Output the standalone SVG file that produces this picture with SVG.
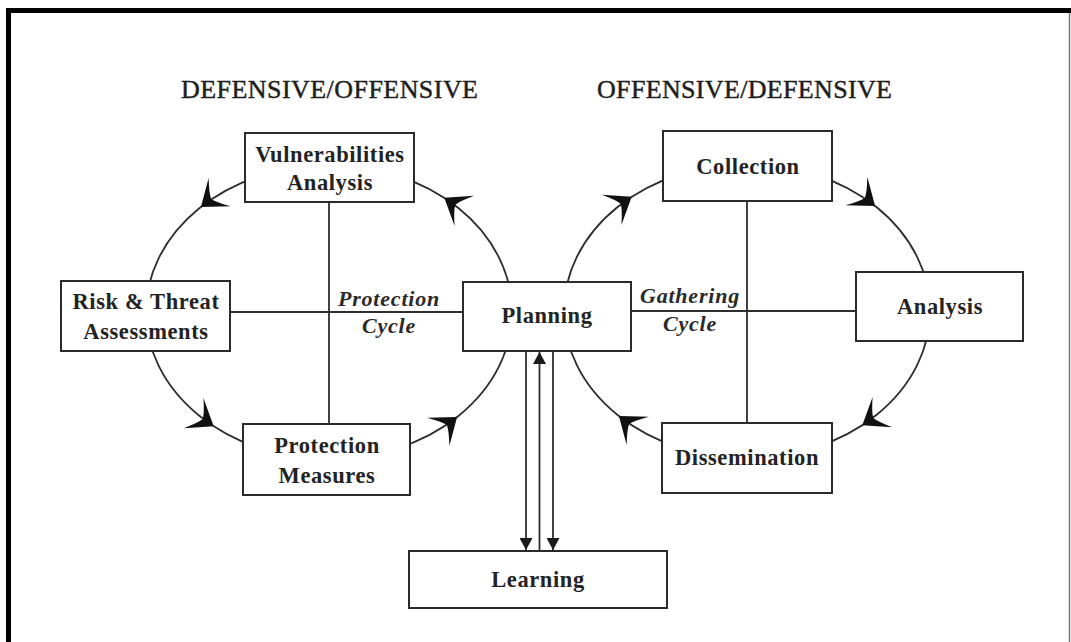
<svg xmlns="http://www.w3.org/2000/svg" xmlns:xlink="http://www.w3.org/1999/xlink" width="1071" height="642" viewBox="0 0 1071 642">
  <style>
    .box { fill: #ffffff; stroke: #2b2b2b; stroke-width: 2; }
    .lbl { font-family: "Liberation Serif", "Times New Roman", serif; font-size: 22.5px; font-weight: bold; fill: #232323; text-anchor: middle; letter-spacing: 0.6px; }
    .cyc { font-family: "Liberation Serif", "Times New Roman", serif; font-size: 22px; font-weight: bold; font-style: italic; fill: #2a2a2a; text-anchor: middle; letter-spacing: 0.8px; }
    .head { font-family: "Liberation Serif", "Times New Roman", serif; font-size: 26px; fill: #1e1e1e; stroke: #1e1e1e; stroke-width: 0.45; text-anchor: middle; }
    .wire { fill: none; stroke: #2e2e2e; stroke-width: 1.8; }
    .barb { fill: #111111; }
  </style>
  <defs>
    <!-- swept-back arrowhead, tip at origin pointing along +x -->
    <path id="barb" class="barb" d="M0,0 L-24,-18 Q-15,-6 -13,0 Q-15,6 -24,18 Z"/>
    <!-- small solid triangle for the Planning/Learning links -->
    <marker id="tri" viewBox="0 0 12 13" refX="12" refY="6.5" markerWidth="12" markerHeight="13" markerUnits="userSpaceOnUse" orient="auto">
      <path d="M0,0 L12,6.5 L0,13 Z" fill="#1a1a1a"/>
    </marker>
  </defs>

  <rect width="1071" height="642" fill="#ffffff"/>

  <!-- page frame -->
  <g id="frame">
    <rect x="6" y="8" width="1065" height="5" fill="#000000"/>
    <rect x="6" y="8" width="5" height="634" fill="#000000"/>
    <line x1="1069.5" y1="13" x2="1069.5" y2="642" stroke="#777777" stroke-width="1.5"/>
  </g>

  <!-- section headings -->
  <text class="head" x="329.5" y="98" textLength="297">DEFENSIVE/OFFENSIVE</text>
  <text class="head" x="744.5" y="98" textLength="295">OFFENSIVE/DEFENSIVE</text>

  <!-- connectors -->
  <g id="connectors">
    <ellipse class="wire" cx="329" cy="312" rx="183" ry="147"/>
    <ellipse class="wire" cx="747" cy="311" rx="183" ry="147"/>
    <line class="wire" x1="329" y1="202" x2="329" y2="424"/>
    <line class="wire" x1="230" y1="312" x2="463" y2="312"/>
    <line class="wire" x1="747" y1="201" x2="747" y2="423"/>
    <line class="wire" x1="631" y1="311" x2="856" y2="311"/>

    <!-- Protection cycle arrowheads -->
    <use href="#barb" transform="translate(444.3,197.8) rotate(-146.9)"/>
    <use href="#barb" transform="translate(200.9,207) rotate(141.8)"/>
    <use href="#barb" transform="translate(213.7,426.2) rotate(33.1)"/>
    <use href="#barb" transform="translate(457.1,417) rotate(-38.2)"/>
    <!-- Gathering cycle arrowheads -->
    <use href="#barb" transform="translate(631.7,196.8) rotate(-33.1)"/>
    <use href="#barb" transform="translate(875.1,206) rotate(38.2)"/>
    <use href="#barb" transform="translate(862.3,425.2) rotate(146.9)"/>
    <use href="#barb" transform="translate(618.9,416) rotate(-141.8)"/>

    <!-- Planning / Learning links -->
    <line class="wire" x1="526" y1="351" x2="526" y2="550" marker-end="url(#tri)"/>
    <line class="wire" x1="553" y1="351" x2="553" y2="550" marker-end="url(#tri)"/>
    <line class="wire" x1="539.5" y1="551" x2="539.5" y2="352" marker-end="url(#tri)"/>
  </g>

  <!-- cycle labels -->
  <text class="cyc" x="389" y="306">Protection</text>
  <text class="cyc" x="389" y="333">Cycle</text>
  <text class="cyc" x="690" y="303">Gathering</text>
  <text class="cyc" x="690" y="331">Cycle</text>

  <!-- nodes -->
  <g id="vulnerabilities">
    <rect class="box" x="245" y="133" width="169" height="69"/>
    <text class="lbl" x="330" y="162">Vulnerabilities</text>
    <text class="lbl" x="330" y="190">Analysis</text>
  </g>
  <g id="risk">
    <rect class="box" x="61" y="281" width="169" height="70"/>
    <text class="lbl" x="146" y="309">Risk &amp; Threat</text>
    <text class="lbl" x="146" y="339">Assessments</text>
  </g>
  <g id="protection">
    <rect class="box" x="243" y="424" width="167" height="71"/>
    <text class="lbl" x="327" y="453">Protection</text>
    <text class="lbl" x="327" y="483">Measures</text>
  </g>
  <g id="planning">
    <rect class="box" x="463" y="282" width="168" height="69"/>
    <text class="lbl" x="547" y="323">Planning</text>
  </g>
  <g id="collection">
    <rect class="box" x="663" y="131" width="169" height="70"/>
    <text class="lbl" x="748" y="174">Collection</text>
  </g>
  <g id="analysis">
    <rect class="box" x="856" y="272" width="167" height="69"/>
    <text class="lbl" x="940" y="314">Analysis</text>
  </g>
  <g id="dissemination">
    <rect class="box" x="662" y="423" width="170" height="70"/>
    <text class="lbl" x="747" y="465">Dissemination</text>
  </g>
  <g id="learning">
    <rect class="box" x="409" y="551" width="258" height="57"/>
    <text class="lbl" x="538" y="587">Learning</text>
  </g>
</svg>
